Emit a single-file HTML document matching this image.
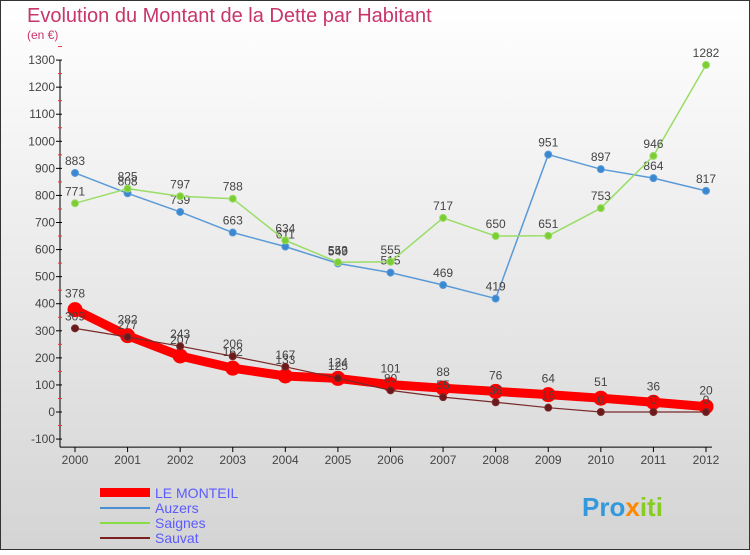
<!DOCTYPE html>
<html><head><meta charset="utf-8"><style>
body{margin:0;}
svg text{font-family:"Liberation Sans",sans-serif;}
</style></head><body>
<svg id="c" width="750" height="550" xmlns="http://www.w3.org/2000/svg">
<defs><linearGradient id="bg" x1="0" y1="0" x2="0" y2="1"><stop offset="0" stop-color="#ffffff"/><stop offset="1" stop-color="#d4d4d4"/></linearGradient></defs>
<rect x="0.5" y="0.5" width="749" height="549" fill="url(#bg)" stroke="#333"/>
<text x="27" y="22" font-size="20" fill="#c8356a">Evolution du Montant de la Dette par Habitant</text>
<text x="27" y="39" font-size="12" fill="#c8356a">(en €)</text>
<g id="axes"></g><g id="series"></g>
<g>
<rect x="100" y="488" width="50" height="9" fill="#ff0000"/>
<text x="155" y="498" font-size="14" fill="#5b5bff">LE MONTEIL</text>
<line x1="100" y1="508" x2="150" y2="508" stroke="#4a8fd0" stroke-width="2"/>
<text x="155" y="513" font-size="14" fill="#5b5bff">Auzers</text>
<line x1="100" y1="523" x2="150" y2="523" stroke="#88dd44" stroke-width="2"/>
<text x="155" y="528" font-size="14" fill="#5b5bff">Saignes</text>
<line x1="100" y1="538" x2="150" y2="538" stroke="#7a2020" stroke-width="2"/>
<text x="155" y="543" font-size="14" fill="#5b5bff">Sauvat</text>
</g>
<text x="582" y="516" font-size="26" font-weight="bold" fill="#3399dd">Pro<tspan fill="#ff8800">x</tspan><tspan fill="#88cc22">iti</tspan></text>
</svg>
<script>
const years=[2000,2001,2002,2003,2004,2005,2006,2007,2008,2009,2010,2011,2012];
const yTicks=[-100,0,100,200,300,400,500,600,700,800,900,1000,1100,1200,1300];
const monteil=[378,282,207,162,133,124,101,88,76,64,51,36,20];
const auzers=[883,808,739,663,611,549,515,469,419,951,897,864,817];
const saignes=[771,825,797,788,634,553,555,717,650,651,753,946,1282];
const sauvat=[309,277,243,206,167,125,80,55,36,16,0,0,0];
const NS="http://www.w3.org/2000/svg";
const X=i=>75+i*(706-75)/(years.length-1);
const Y=v=>412-v*27.07/100;
function mk(t,a,p){const e=document.createElementNS(NS,t);for(const k in a)e.setAttribute(k,a[k]);p.appendChild(e);return e;}
const ax=document.getElementById('axes');
mk('line',{x1:60,y1:Y(1300),x2:60,y2:Y(-100)+8,stroke:'#000'},ax);
mk('line',{x1:60,y1:Y(-100)+8,x2:712,y2:Y(-100)+8,stroke:'#000'},ax);
yTicks.forEach(v=>{
 const l=mk('line',{x1:56,y1:Y(v),x2:62,y2:Y(v),stroke:'#000'},ax);
 
 const r=mk('line',{x1:58,y1:Y(v+50),x2:62,y2:Y(v+50),stroke:'#e33'},ax);
 const t=mk('text',{x:55,y:Y(v)+4,'font-size':12,'text-anchor':'end',fill:'#444'},ax);t.textContent=v;
 
});
years.forEach((y,i)=>{
 mk('line',{x1:X(i),y1:Y(-100)+8,x2:X(i),y2:Y(-100)+13,stroke:'#000'},ax);
 const t=mk('text',{x:X(i),y:464,'font-size':12,'text-anchor':'middle',fill:'#444'},ax);t.textContent=y;
 
});
const sg=document.getElementById('series');
function draw(d,name,col,w,r,dot,lab){
 const g=mk('g',{},sg);
 
 mk('polyline',{points:d.map((v,i)=>X(i)+','+Y(v)).join(' '),fill:'none',stroke:col,'stroke-width':w,'stroke-linejoin':'round'},g);
 d.forEach((v,i)=>{
  const c=mk('circle',{cx:X(i),cy:Y(v),r:r,fill:dot,stroke:col},g);
  
  const t=mk('text',{x:X(i),y:Y(v)-lab,'font-size':12,'text-anchor':'middle',fill:'#444'},g);t.textContent=v;
 });
}
draw(auzers,'auzers','#5a9ad8',1.5,3.5,'#3a88d0',8);
draw(saignes,'saignes','#99dd66',1.5,3.5,'#7ccc33',8);
draw(monteil,'le-monteil','#ff0000',9,7,'#ff0000',12);
draw(sauvat,'sauvat','#7a2a2a',1.2,3.5,'#6a1a1a',8);
</script>
</body></html>
